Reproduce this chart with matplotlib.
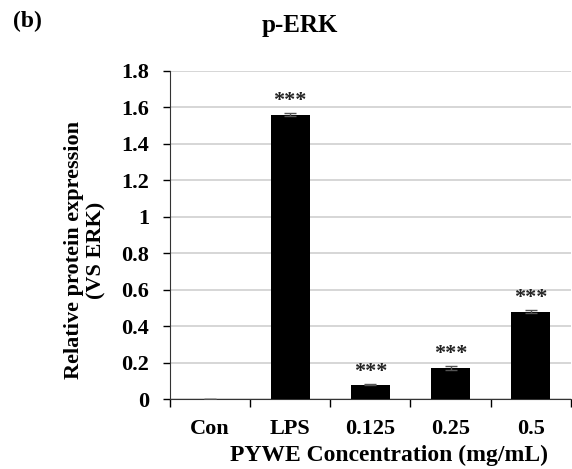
import numpy as np
import matplotlib.pyplot as plt

categories = ['Con', 'LPS', '0.125', '0.25', '0.5']
values = [0.0, 1.56, 0.08, 0.17, 0.48]
errors = [0.0, 0.01, 0.005, 0.01, 0.01]
stars = ['', '***', '***', '***', '***']

plt.rcParams['font.family'] = ['Liberation Serif', 'DejaVu Serif']
plt.rcParams['font.weight'] = 'bold'

fig = plt.figure(figsize=(5.72, 4.69), dpi=100)
ax = fig.add_axes([0.297, 0.149, 0.701, 0.700])

x = np.arange(len(categories))
ax.bar(x, values, width=0.49, color='black', zorder=3,
       yerr=errors, error_kw=dict(ecolor='#555555', capsize=4, elinewidth=1, capthick=1))
for xi, v, e, s in zip(x, values, errors, stars):
    if s:
        ax.text(xi, v + e + 0.01, s, ha='center', va='bottom', fontsize=16, color='#222222')

ax.set_xlim(-0.5, len(categories) - 0.5)
ax.set_ylim(0, 1.8)
ax.set_yticks(np.arange(0, 1.81, 0.2))
ax.set_yticklabels(['0', '0.2', '0.4', '0.6', '0.8', '1', '1.2', '1.4', '1.6', '1.8'], fontsize=16, fontweight='bold')
ax.yaxis.grid(True, color='#d0d0d0', linewidth=1.2, zorder=0)
ax.set_axisbelow(True)

ax.set_xticks(x)
ax.set_xticklabels(categories, fontsize=16, fontweight='bold')
ax.tick_params(axis='x', length=0, pad=14)
ax.set_xticks(np.arange(-0.5, len(categories), 1), minor=True)
ax.tick_params(axis='x', which='minor', length=6, width=1, direction='out')
ax.tick_params(axis='y', length=5, width=1, direction='out', pad=10)

for sp in ['top', 'right']:
    ax.spines[sp].set_visible(False)
ax.spines['left'].set_color('#333333')
ax.spines['bottom'].set_color('#333333')

ax.set_xlabel('PYWE Concentration (mg/mL)', fontsize=17, fontweight='bold')
ax.xaxis.set_label_coords(0.546, -0.14)
ax.set_ylabel('Relative protein expression\n(VS ERK)', fontsize=16, fontweight='bold', linespacing=1.2)
ax.yaxis.set_label_coords(-0.157, 0.454)
fig.text(0.525, 0.945, 'p-ERK', ha='center', va='center', fontsize=18, fontweight='bold')
fig.text(0.022, 0.955, '(b)', ha='left', va='center', fontsize=17, fontweight='bold')

fig.savefig('out.png', dpi=100)
